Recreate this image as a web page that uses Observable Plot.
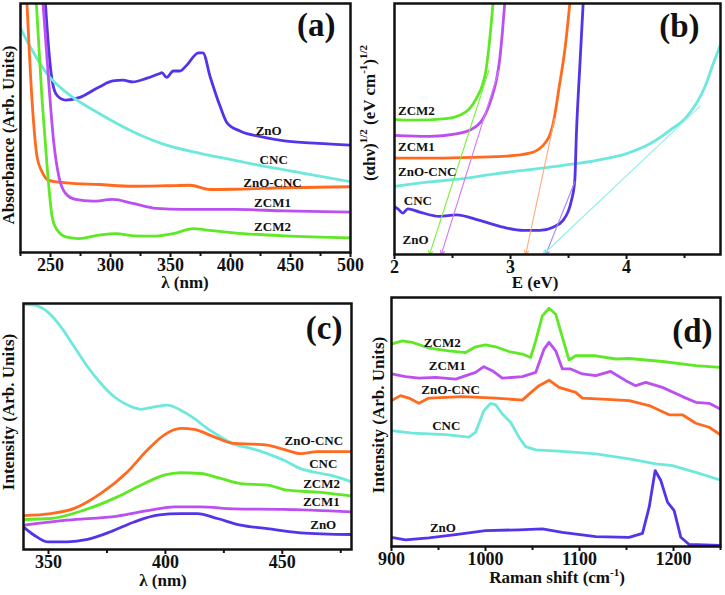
<!DOCTYPE html>
<html><head><meta charset="utf-8">
<script src="https://cdn.jsdelivr.net/npm/d3@7"></script>
<script src="https://cdn.jsdelivr.net/npm/@observablehq/plot@0.6"></script>
<style>
body{margin:0;background:#fff;}
#chart{position:relative;width:725px;height:595px;background:#fff;}
.p{position:absolute;}
.p text{font-weight:bold;fill:#111;}
.p g[aria-label="x-axis tick label"], .p g[aria-label="x-axis tick label"] text{font-size:18px !important;}
</style></head><body><div id="chart"></div>
<script>
const FONT = "'Liberation Serif','Times New Roman',serif";
const colors = {"ZnO":"#5533e8","CNC":"#6ee8dc","ZnO-CNC":"#ff6a1f","ZCM1":"#bb4ff0","ZCM2":"#5fe825"};
const arrowColors = {"ZnO":"#a58af0","CNC":"#8ff0ea","ZnO-CNC":"#ffa77a","ZCM1":"#d77cf2","ZCM2":"#7ef040"};

// ---- Panel (a): absorbance vs wavelength (nm), y in arbitrary units 0-100
const a_ZnO = [[245.8,100],[248.6,81.3],[251.4,69],[255.6,63],[262.6,61.2],[273.8,62.2],[290.6,66.5],[301.9,68.9],[310.3,69.2],[318.7,68.5],[329.9,69.9],[341.1,71.9],[342.8,72.2],[346.7,70.3],[352.3,72.9],[357.9,72.9],[363.5,75.2],[373.3,80.2],[377,80.2],[383.1,70.5],[391.5,58.5],[397.1,52.1],[408.4,48.7],[425.2,46.5],[444.8,44.8],[472.8,43.8],[500,43.1]];
const a_CNC = [[225,90],[234.6,81.3],[248.6,70.8],[262.6,64.5],[290.6,55.8],[318.7,48.5],[346.7,43.1],[374.7,39.8],[402.7,37.1],[430.8,34.4],[458.8,32.0],[500,28.4]];
const a_ZnOCNC = [[230.4,100],[234.6,61.2],[238.8,38.4],[243,32.4],[248.6,29],[262.6,28],[290.6,27.3],[318.7,26.6],[346.7,26.8],[366.3,27],[383.1,25.3],[402.7,25.4],[444.8,26],[500,26.4]];
const a_ZCM1 = [[243.8,100],[248.6,67.9],[252.8,43.8],[257,30.4],[262.6,23.7],[271,21.3],[285,20.6],[301.9,21.3],[318.7,19.7],[338.3,17.7],[360.7,17.3],[402.7,17.3],[444.8,16.7],[500,16.2]];
const a_ZCM2 = [[238.2,100],[243,61.2],[247.2,34.4],[251.4,14.3],[255.6,9.0],[262.6,6.3],[273.8,5.6],[290.6,7.0],[304.7,7.6],[318.7,6.7],[338.3,6.6],[352.3,7.6],[369.1,9.6],[380.3,9.0],[402.7,7.9],[444.8,6.7],[500,5.9]];
const a_labels = [["ZnO",431.8,49],["CNC",436,37.3],["ZnO-CNC",435,28.1],["ZCM1",435,20.1],["ZCM2",435,10.4]];
const a_ticks = [250,300,350,400,450,500];
const a_minor = [225,275,325,375,425,475];

// ---- Panel (b): Tauc plot vs E (eV)
const b_ZCM2 = [[2.0,53.7],[2.158,53.5],[2.446,54.1],[2.561,55.5],[2.647,58.1],[2.705,62.1],[2.757,67.4],[2.786,72.7],[2.814,82.7],[2.849,100]];
const b_ZCM1 = [[2.0,47.5],[2.302,47.1],[2.532,48.1],[2.647,49.5],[2.763,54.1],[2.835,62.1],[2.878,69.4],[2.906,77.4],[2.929,88],[2.95,100]];
const b_ZnOCNC = [[2.0,38.4],[2.3,38.4],[2.59,38.6],[2.935,39.1],[3.165,40.4],[3.281,43.5],[3.367,52.1],[3.424,68.1],[3.468,81.4],[3.511,100]];
const b_CNC = [[2.0,27.1],[2.302,28.9],[2.59,30.2],[2.878,32.2],[3.165,33.8],[3.453,35.5],[3.741,37.5],[4.0,40.2],[4.201,44.1],[4.374,49.5],[4.518,54.8],[4.676,66.8],[4.748,76.1],[4.814,84]];
const b_ZnO = [[2.0,19.1],[2.029,18.2],[2.072,16.5],[2.115,18.2],[2.216,16.9],[2.388,15.2],[2.532,15.8],[2.734,13.6],[2.935,10.9],[3.108,9.6],[3.252,9.6],[3.367,10.9],[3.453,13.6],[3.525,21.5],[3.554,29.5],[3.568,48.1],[3.597,74.7],[3.626,100]];
// tangent fits: [sample, E_top, y_top, E_gap]
const b_fits = [["ZCM2",2.814,73.4,2.302],["ZCM1",2.90,73.4,2.403],["ZnO-CNC",3.38,54,3.131],["ZnO",3.554,29,3.304],["CNC",4.633,59,3.281]];
const b_labels = [["ZCM2",2.03,57.4],["ZCM1",2.03,42.8],["ZnO-CNC",2.03,32.8],["CNC",2.08,21.5],["ZnO",2.07,5.9]];
const b_ticks = [2,3,4];
const b_minor = [2.5,3.5,4.5];

// ---- Panel (c): PL intensity vs wavelength (nm)
const c_CNC = [[339.6,99.7],[343.9,99.3],[349.6,96.6],[355.3,90.5],[361,82.4],[366.7,74.3],[372.4,67.5],[378.1,62.1],[383.8,58.7],[389.5,57],[395.2,58],[400.9,58.7],[406.6,56.6],[412.3,53.3],[417.9,49.2],[423.6,45.8],[429.3,42.8],[436.5,41.1],[443.6,39],[450.7,36.3],[457.8,32.9],[465,31.2],[472.1,29.8],[479.6,27.5]];
const c_ZnOCNC = [[339.6,13.8],[351,14.6],[361,16.7],[372.4,22.8],[383.8,31.6],[392.3,40.4],[399.4,46.5],[406.6,49.2],[412.3,48.8],[420.8,45.8],[429.3,43.1],[437.9,42.8],[443.6,42.4],[450.7,40.7],[457.8,39],[465,39.8],[479.6,39.8]];
const c_ZCM2 = [[339.6,12.2],[351,12.6],[365.2,16],[379.5,21.4],[390.9,26.8],[399.4,30.2],[406.6,31.2],[415.1,30.9],[423.6,28.9],[432.2,26.8],[443.6,26.2],[452.1,24.1],[465,23.3],[479.6,21.8]];
const c_ZCM1 = [[339.6,9.9],[358.1,11.9],[379.5,13.6],[393.7,16],[403.7,17.3],[415.1,17.3],[429.3,16.5],[450.7,16.3],[479.6,15.3]];
const c_ZnO = [[339.6,8.9],[343.9,5.8],[349.6,3.1],[358.1,3.1],[366.7,4.1],[376.6,7.2],[386.6,11.2],[396.6,14],[406.6,14.6],[413.7,14.6],[422.2,12.6],[432.2,9.9],[443.6,8.5],[457.8,6.8],[479.6,6.1]];
const c_labels = [["ZnO-CNC",463.5,44.2],["CNC",467.5,35],["ZCM2",466.8,26.8],["ZCM1",466.7,19.4],["ZnO",467.5,9.9]];
const c_ticks = [350,400,450];
const c_minor = [375,425,475];

// ---- Panel (d): Raman intensity vs Raman shift (cm-1)
const d_ZCM2 = [[900,81.3],[911.4,82.6],[922,82],[939.8,79.7],[961.1,78.6],[978.8,77.9],[989.5,80.2],[1000,81],[1010.8,80.2],[1025,78.3],[1039.2,77.3],[1048,75.9],[1053.4,82.6],[1060.5,92.6],[1067.6,95.7],[1074.7,93.3],[1081.8,84],[1088.9,74.9],[1096,76.6],[1117.3,76.6],[1138.5,75.3],[1152.8,75.5],[1188.2,74.3],[1223.7,72.6],[1249.7,71.9]];
const d_ZCM1 = [[900,69.3],[914.9,68.2],[929.1,67.6],[946.9,67.9],[968.2,67.2],[989.5,69.9],[998.2,72.2],[1007.2,70.6],[1017.9,67.6],[1039.2,68.2],[1053.4,69.9],[1062.3,79.3],[1067.6,82],[1074.7,78.6],[1081.8,71.3],[1090.6,71.3],[1103,69.3],[1117.3,68.6],[1133.2,70.3],[1149.2,66.6],[1159.8,64.6],[1170.5,65.9],[1188.2,63.9],[1209.5,60.2],[1223.7,57.9],[1237.9,57.5],[1249.7,55.2]];
const d_ZnOCNC = [[900,58.6],[909.6,60.6],[918.5,59.6],[929.1,57.5],[939.8,59.6],[975.3,60.2],[1010.8,59.6],[1039.2,58.8],[1046.3,61.2],[1056.9,64.6],[1067.6,66.8],[1078.2,63.9],[1096,61.9],[1103,59.6],[1124.3,59.2],[1152.8,58.6],[1174.1,56.6],[1195.4,52.9],[1209.5,52.9],[1223.7,49.5],[1237.9,47.9],[1249.7,44.9]];
const d_CNC = [[900,46.5],[922,45.5],[957.5,44.9],[982.4,43.9],[989.5,45.9],[998.2,54.5],[1005.4,57.5],[1010.8,56.9],[1017.9,53.2],[1026.7,49.9],[1035.6,43.9],[1042.7,40.1],[1053.4,38.8],[1081.8,38.2],[1117.3,37.2],[1152.8,35.2],[1181.2,33.2],[1198.9,32.5],[1223.7,29.8],[1249.7,26.7]];
const d_ZnO = [[900,3.7],[914.9,2.7],[939.8,3.5],[968.2,4.8],[1000,6.4],[1035.6,6.7],[1060.5,7.1],[1081.8,5.7],[1117.3,4],[1152.8,3.7],[1167,5.3],[1174.1,15.8],[1180.5,30.5],[1186.5,26.5],[1193.6,17.8],[1200.7,14.4],[1207.8,3.7],[1216.6,0.8],[1249.7,0.4]];
const d_labels = [["ZCM2",954,81.6],["ZCM1",959.3,72.6],["ZnO-CNC",962.8,63],["CNC",958.2,48.5],["ZnO",954.7,7.5]];
const d_ticks = [900,1000,1100,1200];
const d_minor = [950,1050,1150,1250];

const chart = document.getElementById("chart");

function panel(cfg) {
  const marks = [];
  for (const [name, pts] of cfg.series) {
    marks.push(Plot.line(pts, {x: d => d[0], y: d => d[1], stroke: colors[name], strokeWidth: 2.8, curve: cfg.curve || "linear", clip: true}));
  }
  for (const f of (cfg.fits || [])) {
    marks.push(Plot.arrow([f], {x1: d => d[1], y1: d => d[2], x2: d => d[3], y2: () => 0, stroke: arrowColors[f[0]], strokeWidth: 1.1, headLength: 6, bend: false}));
  }
  marks.push(Plot.text(cfg.labels, {x: d => d[1], y: d => d[2], text: d => d[0], textAnchor: cfg.labelAnchor || "middle", fontSize: 13, fontWeight: "bold", fill: "#111"}));
  marks.push(Plot.text([cfg.tag], {frameAnchor: "top-right", dx: cfg.tagDx, dy: cfg.tagDy, fontSize: 33, fontWeight: "bold", fill: "#111"}));
  marks.push(Plot.axisX({ticks: cfg.major, tickSize: 5, tickPadding: 1, fontSize: 18, fontWeight: "bold", label: null, tickFormat: d => String(d), strokeWidth: 2}));
  marks.push(Plot.axisX({ticks: cfg.minor, tickSize: 4, tickFormat: () => "", label: null, strokeWidth: 2}));
  marks.push(Plot.frame({stroke: "#111", strokeWidth: 2.5}));
  const svg = Plot.plot({
    width: cfg.width, height: cfg.height,
    marginLeft: cfg.m[0], marginTop: cfg.m[1], marginRight: cfg.m[2], marginBottom: cfg.m[3],
    x: {domain: cfg.xdomain},
    y: {domain: [0, 100], axis: null},
    style: {fontFamily: FONT, background: "transparent", overflow: "visible", color: "#111"},
    marks
  });
  const wrap = document.createElement("div");
  wrap.className = "p";
  wrap.style.left = cfg.left + "px";
  wrap.style.top = cfg.top + "px";
  wrap.appendChild(svg);
  chart.appendChild(wrap);
  const s = d3.select(svg);
  const yt = s.append("text").attr("transform", `translate(${cfg.yt[0]},${cfg.yt[1]}) rotate(-90)`)
    .attr("text-anchor", "middle").attr("dominant-baseline", "middle")
    .style("font-size", "17px").style("font-family", FONT).style("font-weight", "bold");
  addParts(yt, cfg.ytitle);
  const xt = s.append("text").attr("x", cfg.xt[0]).attr("y", cfg.xt[1])
    .attr("text-anchor", "middle")
    .style("font-size", "17px").style("font-family", FONT).style("font-weight", "bold");
  addParts(xt, cfg.xtitle);
}

function addParts(t, parts) {
  let sup = false;
  for (const p of parts) {
    const isSup = Array.isArray(p);
    const txt = isSup ? p[0] : p;
    const ts = t.append("tspan").text(txt);
    if (isSup && !sup) { ts.attr("dy", -7).style("font-size", "11px"); sup = true; }
    else if (!isSup && sup) { ts.attr("dy", 7); sup = false; }
    else if (isSup) ts.style("font-size", "11px");
  }
}

panel({left: 0, top: 0, width: 362, height: 295, m: [20, 3, 12, 43], xdomain: [225, 500],
  series: [["ZnO", a_ZnO], ["CNC", a_CNC], ["ZnO-CNC", a_ZnOCNC], ["ZCM1", a_ZCM1], ["ZCM2", a_ZCM2]],
  labels: a_labels, tag: "(a)", tagDx: -15, tagDy: 9, major: a_ticks, minor: a_minor, curve: "monotone-x",
  yt: [10, 135], ytitle: ["Absorbance (Arb. Units)"], xt: [185, 288], xtitle: ["λ (nm)"]});

panel({left: 362, top: 0, width: 363, height: 295, m: [32, 3, 5, 41], xdomain: [2, 4.81],
  series: [["ZCM2", b_ZCM2], ["ZCM1", b_ZCM1], ["ZnO-CNC", b_ZnOCNC], ["CNC", b_CNC], ["ZnO", b_ZnO]],
  fits: b_fits, labels: b_labels, labelAnchor: "start", tag: "(b)", tagDx: -21, tagDy: 10, major: b_ticks, minor: b_minor, curve: "monotone-x",
  yt: [9, 113], ytitle: ["(αhν)", ["1/2"], " (eV cm", ["-1"], ")", ["1/2"]], xt: [173, 288], xtitle: ["E (eV)"]});

panel({left: 0, top: 295, width: 362, height: 300, m: [23, 8, 11, 46], xdomain: [339.3, 479.6],
  series: [["CNC", c_CNC], ["ZnO-CNC", c_ZnOCNC], ["ZCM2", c_ZCM2], ["ZCM1", c_ZCM1], ["ZnO", c_ZnO]],
  labels: c_labels, tag: "(c)", tagDx: -9, tagDy: 12, major: c_ticks, minor: c_minor, curve: "monotone-x",
  yt: [10, 117], ytitle: ["Intensity (Arb. Units)"], xt: [163, 291], xtitle: ["λ (nm)"]});

panel({left: 362, top: 295, width: 363, height: 300, m: [29, 2, 5, 49], xdomain: [900, 1250],
  series: [["ZCM2", d_ZCM2], ["ZCM1", d_ZCM1], ["ZnO-CNC", d_ZnOCNC], ["CNC", d_CNC], ["ZnO", d_ZnO]],
  labels: d_labels, tag: "(d)", tagDx: -8, tagDy: 21, major: d_ticks, minor: d_minor, curve: "linear",
  yt: [18, 120], ytitle: ["Intensity (Arb. Units)"], xt: [195, 288], xtitle: ["Raman shift (cm", ["-1"], ")"]});
</script></body></html>
